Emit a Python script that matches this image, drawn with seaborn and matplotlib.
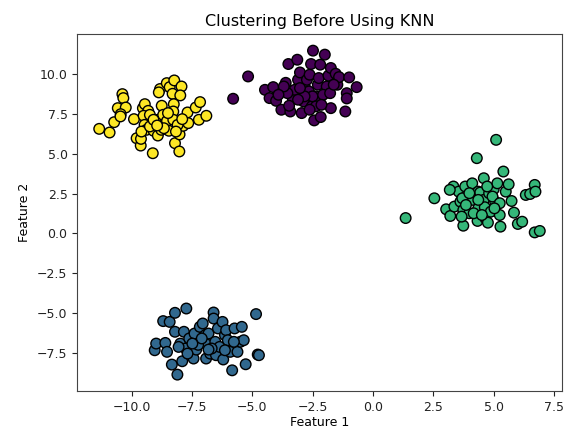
import matplotlib
matplotlib.use("Agg")
import matplotlib.pyplot as plt
import seaborn as sns
import pandas as pd

# Cluster 0 (purple)
c0_x = [-5.8, -5.18, -4.48, -4.29, -4.14, -4.02, -3.8, -3.62, -3.51, -3.43, -3.33, -3.14, -3.11, -3.03,
        -2.96, -2.88, -2.81, -2.74, -2.63, -2.57, -2.54, -2.49, -2.44, -2.37, -2.29, -2.25, -2.22, -2.19,
        -2.17, -2.0, -1.92, -1.85, -1.75, -1.75, -1.55, -1.48, -1.41, -1.15, -1.09, -1.09, -0.99, -0.68,
        -3.25, -3.55, -3.7, -2.66, -2.51, -2.07, -1.78, -2.37, -2.84, -3.11, -3.92, -3.48, -2.63, -1.63,
        -2.14, -3.03]
c0_y = [8.45, 9.85, 9.01, 8.49, 9.18, 8.32, 7.76, 9.45, 10.63, 7.65, 8.49, 10.9, 9.64, 10.1,
        7.55, 8.28, 9.12, 9.64, 9.96, 10.63, 7.97, 11.47, 7.09, 8.6, 9.33, 9.75, 8.32, 10.59,
        7.3, 11.22, 9.22, 9.9, 10.38, 7.86, 10.02, 9.33, 9.81, 7.65, 8.8, 8.47, 9.79, 9.18,
        9.01, 8.8, 9.22, 8.91, 8.6, 8.7, 8.8, 7.97, 8.6, 8.39, 8.7, 8.01, 7.76, 9.33,
        8.07, 9.12]

# Cluster 1 (blue)
c1_x = [-9.05, -8.99, -8.7, -8.61, -8.54, -8.43, -8.34, -8.21, -8.21, -8.11, -7.99, -7.91, -7.84, -7.77,
        -7.74, -7.62, -7.44, -7.4, -7.33, -7.18, -7.06, -6.95, -6.92, -6.89, -6.82, -6.75, -6.61, -6.61,
        -6.54, -6.51, -6.43, -6.36, -6.24, -6.21, -6.14, -6.09, -6.02, -5.92, -5.84, -5.74, -5.62, -5.5,
        -5.44, -5.36, -5.28, -4.85, -4.78, -4.73, -7.25, -7.1, -6.69, -7.49, -6.14, -7.69, -5.77, -8.06,
        -6.82]
c1_y = [-7.34, -6.92, -5.51, -6.88, -7.44, -5.56, -8.24, -4.99, -6.18, -8.87, -6.92, -8.03, -6.18, -7.23,
        -4.72, -6.6, -7.86, -6.29, -7.3, -5.87, -5.66, -6.39, -7.86, -6.98, -6.29, -7.55, -4.97, -5.35,
        -6.81, -7.65, -5.97, -7.13, -5.56, -7.92, -6.39, -6.08, -6.71, -7.44, -8.6, -5.97, -7.44, -6.81,
        -5.87, -6.71, -8.22, -5.07, -7.61, -7.65, -7.0, -6.6, -7.23, -6.92, -7.34, -7.55, -6.81, -7.13,
        -7.3]

# Cluster 2 (green)
c2_x = [1.35, 2.54, 3.03, 3.2, 3.33, 3.37, 3.55, 3.62, 3.74, 3.74, 3.82, 3.85, 3.99, 4.11,
        4.14, 4.3, 4.36, 4.36, 4.33, 4.44, 4.59, 4.59, 4.63, 4.66, 4.76, 4.81, 4.88, 5.0,
        5.06, 5.1, 5.15, 5.25, 5.28, 5.4, 5.5, 5.62, 5.74, 5.84, 6.0, 6.18, 6.33, 6.51,
        6.7, 6.73, 6.7, 6.91, 3.7, 3.99, 4.17, 4.51, 4.73, 4.95, 3.67, 3.18, 3.85, 5.25,
        4.36, 5.03]
c2_y = [0.96, 2.2, 1.51, 1.09, 2.94, 1.68, 2.62, 1.99, 0.48, 1.47, 2.94, 2.31, 1.26, 3.14,
        2.1, 4.72, 2.62, 1.57, 0.78, 2.56, 3.46, 2.1, 1.64, 0.94, 0.67, 2.52, 1.36, 2.77,
        1.99, 5.87, 3.14, 1.15, 0.42, 3.88, 2.62, 3.08, 2.03, 1.3, 0.59, 0.73, 2.41, 2.47,
        3.04, 2.62, 0.06, 0.15, 2.2, 2.52, 1.26, 1.15, 2.94, 2.31, 1.05, 2.73, 1.78, 1.89,
        2.1, 1.57]

# Cluster 3 (yellow)
c3_x = [-11.35, -10.92, -10.73, -10.58, -10.39, -10.35, -10.25, -10.46, -10.47, -9.91, -9.8, -9.63, -9.62,
        -9.54, -9.46, -9.32, -9.51, -9.47, -9.39, -9.13, -9.1, -8.92, -8.83, -8.88, -8.76, -8.91, -8.7,
        -8.55, -8.43, -8.62, -8.54, -8.46, -8.24, -8.31, -8.26, -8.28, -8.28, -8.21, -8.03, -8.02, -7.94,
        -7.99, -7.87, -7.69, -7.66, -7.35, -7.17, -7.22, -6.91, -9.6, -9.25, -8.78, -8.1, -8.5, -9.25,
        -9.1, -8.67, -8.17, -7.91, -8.95]
c3_y = [6.56, 6.33, 6.98, 7.86, 8.74, 8.49, 7.9, 7.48, 7.34, 7.17, 5.97, 5.51, 5.93,
        7.86, 8.11, 7.69, 7.38, 6.81, 6.5, 5.03, 6.44, 6.14, 9.06, 8.85, 8.01, 7.13, 7.44,
        9.43, 9.18, 6.88, 7.06, 6.44, 9.6, 8.76, 8.11, 7.65, 7.13, 5.66, 5.14, 6.21, 9.22,
        8.66, 6.75, 7.59, 6.92, 7.9, 8.24, 7.13, 7.38, 6.39, 7.44, 6.5, 6.81, 7.55, 6.71,
        7.13, 6.6, 6.39, 7.17, 6.77]

cluster_colors = ["#440154", "#31688e", "#35b779", "#fde725"]

xs = [c0_x, c1_x, c2_x, c3_x]
ys = [c0_y, c1_y, c2_y, c3_y]
frames = []
for k in range(4):
    frames.append(pd.DataFrame({"Feature 1": xs[k], "Feature 2": ys[k], "cluster": k}))
df = pd.concat(frames, ignore_index=True)

fig = plt.figure(figsize=(5.64, 4.30), dpi=100)
ax = fig.add_axes([0.137, 0.091, 0.859, 0.829])
sns.scatterplot(data=df, x="Feature 1", y="Feature 2", hue="cluster",
                palette=cluster_colors, s=58, edgecolor="black", linewidth=1.0,
                legend=False, ax=ax)
ax.set_xlim(-12.26, 7.82)
ax.set_ylim(-9.89, 12.49)
ax.set_xticks([-10.0, -7.5, -5.0, -2.5, 0.0, 2.5, 5.0, 7.5])
ax.set_yticks([-7.5, -5.0, -2.5, 0.0, 2.5, 5.0, 7.5, 10.0])
ax.tick_params(labelsize=9, colors="#222222")
ax.set_xlabel("Feature 1", fontsize=9, labelpad=2)
ax.set_ylabel("Feature 2", fontsize=9)
ax.set_title("Clustering Before Using KNN", fontsize=11.5)
for s in ax.spines.values():
    s.set_color("#444444")
fig.savefig("out.png", dpi=100)
